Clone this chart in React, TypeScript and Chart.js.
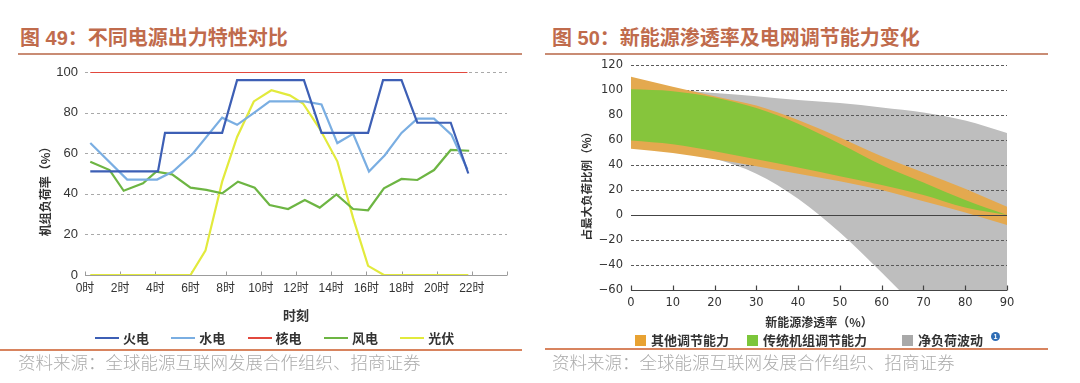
import React, { useEffect, useRef } from 'react';
import { Chart, registerables } from 'chart.js';

Chart.register(...registerables);

// ---------------- Figure 49 data (hours on a 0–24 axis, load rate %) ----------------
const SERIES_49 = ['火电', '水电', '核电', '风电', '光伏'];
const COLORS_49 = ['#3d5fb5', '#7aaee2', '#e2483d', '#6db543', '#e2ea3c'];

const THERMAL_X = [0.3, 4.15, 4.55, 7.8, 8.65, 12.45, 13.45, 16.1, 16.95, 18.0, 18.9, 20.8, 21.8];
const THERMAL_Y = [51, 51, 70, 70, 96, 96, 70, 70, 96, 96, 75, 75, 50];

const HYDRO_X = [0.3, 2.4, 4.1, 5.0, 6.15, 7.8, 8.65, 9.55, 10.5, 12.5, 13.45, 14.35, 15.25, 16.15, 17.05, 18.0, 18.9, 19.85, 20.85, 21.75];
const HYDRO_Y = [65, 47, 47, 51, 60, 77.5, 74, 79.5, 85.5, 85.5, 84, 65, 69.5, 51, 59, 70, 77, 77, 69, 52];

const NUCLEAR_X = [0.3, 21.75];
const NUCLEAR_Y = [100, 100];

const WIND_X = [0.3, 1.4, 2.2, 3.3, 4.05, 4.95, 6.0, 6.9, 7.8, 8.7, 9.65, 10.5, 11.55, 12.5, 13.35, 14.3, 15.25, 16.1, 17.0, 18.0, 18.9, 19.85, 20.8, 21.85];
const WIND_Y = [55.8, 51.7, 41.5, 45.2, 50.9, 49.6, 43, 41.9, 40.2, 46, 43, 34.5, 32.5, 36.9, 33.2, 39.7, 32.5, 31.9, 42.7, 47.3, 46.8, 51.7, 61.6, 61.2];

const SOLAR_X = [0.3, 6.0, 6.85, 7.8, 8.65, 9.6, 10.6, 11.65, 12.4, 13.35, 14.35, 15.25, 16.1, 17.0, 21.8];
const SOLAR_Y = [0, 0, 12, 46, 68, 85.5, 91, 88.5, 84.5, 72, 56, 28, 4.5, 0, 0];

const HOUR_MIN = 0;
const HOUR_MAX = 24;
const HOUR_STEP = 2;
const LOAD_TICKS = [0, 20, 40, 60, 80, 100];

// ---------------- Figure 50 data (penetration %, share of max load %) ----------------
const SERIES_50 = ['其他调节能力', '传统机组调节能力', '净负荷波动'];
const PEN_X = [0, 10, 20, 30, 40, 50, 60, 70, 80, 90];
const ORANGE_TOP = [110.5, 102.5, 95, 87.5, 76, 62, 47, 34, 21, 6.5];
const GREEN_TOP = [100.5, 99, 94, 85.5, 73, 57, 40, 26, 12, 0];
const GREEN_BOT = [59.5, 56.5, 51, 44.5, 38, 31, 24, 16, 6, 0];
const ORANGE_BOT = [53, 49.5, 44.5, 39, 33, 27, 20, 11, 2, -8];
const GREY_TOP = [100, 100, 97.5, 95, 92, 89.5, 86, 82, 75.5, 65.5];
const GREY_BOT = [56, 51, 45, 33, 13, -14, -46, -80, -115, -150];
const SHARE_TICKS = [-60, -40, -20, 0, 20, 40, 60, 80, 100, 120];

const LATIN = '"Liberation Sans", Arial, "Noto Sans CJK SC", sans-serif';
const DEJAVU = '"DejaVu Sans", "Noto Sans CJK SC", sans-serif';
const CJK = '"Noto Sans CJK SC", "Liberation Sans", sans-serif';

const pts = (xs: number[], ys: number[]) => xs.map((x, i) => ({ x, y: ys[i] }));

function Figure49() {
  const ref = useRef<HTMLCanvasElement>(null);
  useEffect(() => {
    const gridPlugin = {
      id: 'grid49',
      beforeDatasetsDraw(chart: any) {
        const { ctx, chartArea, scales } = chart;
        const { left, right, bottom } = chartArea;
        ctx.save();
        ctx.lineWidth = 1;
        ctx.strokeStyle = '#a9a9a9';
        ctx.setLineDash([3, 3]);
        LOAD_TICKS.forEach((v) => {
          if (v === 0) return;
          const py = Math.round(scales.y.getPixelForValue(v)) + 0.5;
          ctx.beginPath();
          ctx.moveTo(left, py);
          ctx.lineTo(right, py);
          ctx.stroke();
        });
        ctx.setLineDash([]);
        ctx.strokeStyle = '#9c9c9c';
        const by = Math.round(bottom) + 0.5;
        ctx.beginPath();
        ctx.moveTo(left, by);
        ctx.lineTo(right, by);
        ctx.stroke();
        scales.x.ticks.forEach((t: any) => {
          const px = Math.round(scales.x.getPixelForValue(t.value)) + 0.5;
          ctx.beginPath();
          ctx.moveTo(px, by);
          ctx.lineTo(px, by - 4);
          ctx.stroke();
        });
        ctx.restore();
      },
    };
    const xs = [THERMAL_X, HYDRO_X, NUCLEAR_X, WIND_X, SOLAR_X];
    const ys = [THERMAL_Y, HYDRO_Y, NUCLEAR_Y, WIND_Y, SOLAR_Y];
    const chart = new Chart(ref.current!, {
      type: 'line',
      data: {
        datasets: SERIES_49.map((name, i) => ({
          label: name,
          data: pts(xs[i], ys[i]),
          borderColor: COLORS_49[i],
          backgroundColor: COLORS_49[i],
          borderWidth: 2.2,
          pointRadius: 0,
          tension: 0,
          fill: false,
        })),
      },
      options: {
        responsive: false,
        animation: false,
        devicePixelRatio: 1,
        layout: { padding: { left: 38, top: 17, right: 33, bottom: 0 } },
        plugins: { legend: { display: false }, tooltip: { enabled: false } },
        scales: {
          x: {
            type: 'linear',
            min: HOUR_MIN,
            max: HOUR_MAX,
            ticks: {
              stepSize: HOUR_STEP,
              autoSkip: false,
              maxRotation: 0,
              padding: 6,
              color: '#333',
              font: { size: 12, family: LATIN },
              callback: (v: any) => (v === HOUR_MAX ? '' : `${v}时`),
            },
            grid: { display: false, drawTicks: false },
            border: { display: false },
            title: { display: true, text: '时刻', color: '#333', padding: 0, font: { size: 13, weight: 'bold', family: CJK } },
            afterFit: (s: any) => { s.height = 48; },
          },
          y: {
            min: 0,
            max: 100,
            ticks: { stepSize: 20, padding: 7, color: '#333', font: { size: 13, family: LATIN } },
            grid: { display: false, drawTicks: false },
            border: { display: false },
            title: { display: true, text: '机组负荷率（%）\u3000\u3000\u3000', color: '#333', padding: 0, font: { size: 12, weight: 'bold', family: CJK } },
            afterFit: (s: any) => { s.width = 47; },
          },
        },
      } as any,
      plugins: [gridPlugin],
    });
    return () => chart.destroy();
  }, []);
  return (
    <canvas ref={ref} width={540} height={268}
      style={{ position: 'absolute', left: 0, top: 55, width: 540, height: 268 }} />
  );
}

function Figure50() {
  const ref = useRef<HTMLCanvasElement>(null);
  useEffect(() => {
    const drawDashed = (chart: any) => {
      const { ctx, chartArea, scales } = chart;
      ctx.save();
      ctx.lineWidth = 1;
      ctx.strokeStyle = '#5a5a5a';
      ctx.setLineDash([3, 2]);
      SHARE_TICKS.forEach((v) => {
        if (v === 0 || v === -60) return;
        const py = Math.round(scales.y.getPixelForValue(v)) + 0.5;
        ctx.beginPath();
        ctx.moveTo(chartArea.left, py);
        ctx.lineTo(chartArea.right, py);
        ctx.stroke();
      });
      ctx.restore();
    };
    const axesPlugin = {
      id: 'axes50',
      afterDatasetDraw(chart: any, args: any) {
        if (args.index === 4) drawDashed(chart);
      },
      afterDatasetsDraw(chart: any) {
        const { ctx, chartArea, scales } = chart;
        ctx.save();
        ctx.strokeStyle = '#444';
        ctx.lineWidth = 1.2;
        const zy = Math.round(scales.y.getPixelForValue(0)) + 0.5;
        ctx.beginPath();
        ctx.moveTo(chartArea.left, zy);
        ctx.lineTo(chartArea.right, zy);
        ctx.stroke();
        const by = Math.round(chartArea.bottom) + 0.5;
        ctx.beginPath();
        ctx.moveTo(chartArea.left, by);
        ctx.lineTo(chartArea.right, by);
        ctx.stroke();
        scales.x.ticks.forEach((t: any) => {
          const px = Math.round(scales.x.getPixelForValue(t.value)) + 0.5;
          ctx.beginPath();
          ctx.moveTo(px, by);
          ctx.lineTo(px, by - 5);
          ctx.stroke();
        });
        ctx.restore();
      },
    };
    const band = (data: number[], color: string, fill: any, order: number) => ({
      data: pts(PEN_X, data),
      fill,
      backgroundColor: color,
      borderColor: 'transparent',
      borderWidth: 0,
      pointRadius: 0,
      cubicInterpolationMode: 'monotone',
      order,
    });
    const chart = new Chart(ref.current!, {
      type: 'line',
      data: {
        datasets: [
          { label: SERIES_50[1], ...band(GREEN_TOP, '#86c53c', '+1', 1) },
          { label: SERIES_50[1] + '下', ...band(GREEN_BOT, '#86c53c', false, 2) },
          { label: SERIES_50[0], ...band(ORANGE_TOP, '#e4a94f', '+1', 3) },
          { label: SERIES_50[0] + '下', ...band(ORANGE_BOT, '#e4a94f', false, 4) },
          { label: SERIES_50[2], ...band(GREY_TOP, '#bebebe', '+1', 5) },
          { label: SERIES_50[2] + '下', ...band(GREY_BOT, '#bebebe', false, 6) },
        ],
      },
      options: {
        responsive: false,
        animation: false,
        devicePixelRatio: 1,
        layout: { padding: { left: 35, top: 14, right: 73, bottom: 0 } },
        plugins: { legend: { display: false }, tooltip: { enabled: false } },
        scales: {
          x: {
            type: 'linear',
            min: 0,
            max: 90,
            ticks: { stepSize: 10, autoSkip: false, maxRotation: 0, padding: 6, color: '#333', font: { size: 11.5, family: DEJAVU } },
            grid: { display: false, drawTicks: false },
            border: { display: false },
            title: { display: true, text: '新能源渗透率（%）', color: '#333', padding: 0, font: { size: 12, weight: 'bold', family: CJK } },
            afterFit: (s: any) => { s.height = 40; },
          },
          y: {
            min: -60,
            max: 120,
            ticks: {
              stepSize: 20,
              padding: 8,
              color: '#333',
              font: { size: 11.5, family: DEJAVU },
              callback: (v: any) => (v < 0 ? `\u2212${Math.abs(v)}` : `${v}`),
            },
            grid: { display: false, drawTicks: false },
            border: { display: false },
            title: { display: true, text: '占最大负荷比例（%）\u3000\u2002', color: '#333', padding: 0, font: { size: 11.5, weight: 'bold', family: CJK } },
            afterFit: (s: any) => { s.width = 51; },
          },
        },
      } as any,
      plugins: [axesPlugin],
    });
    return () => chart.destroy();
  }, []);
  return (
    <canvas ref={ref} width={535} height={280}
      style={{ position: 'absolute', left: 545, top: 50, width: 535, height: 280 }} />
  );
}

const headerStyle: React.CSSProperties = {
  position: 'absolute',
  top: 26,
  fontFamily: LATIN,
  fontWeight: 'bold',
  fontSize: 20,
  lineHeight: '24px',
  color: '#c06b4c',
  whiteSpace: 'nowrap',
};
const sourceStyle: React.CSSProperties = {
  position: 'absolute',
  top: 352,
  fontFamily: CJK,
  fontWeight: 300,
  fontSize: 17.5,
  lineHeight: '20px',
  color: '#ababab',
  whiteSpace: 'nowrap',
};
const legendText: React.CSSProperties = {
  position: 'absolute',
  fontFamily: CJK,
  fontWeight: 'bold',
  fontSize: 13,
  lineHeight: '18px',
  color: '#333',
  whiteSpace: 'nowrap',
};

export default function App() {
  const legend50Colors = ['#e8a232', '#7cc63a', '#a9a9a9'];
  const legend50Left = [635, 747, 902];
  return (
    <div style={{ position: 'absolute', left: 0, top: 0, width: 1080, height: 383, background: '#fff', overflow: 'hidden' }}>
      <div style={{ ...headerStyle, left: 20 }}>图 49：不同电源出力特性对比</div>
      <div style={{ ...headerStyle, left: 552 }}>图 50：新能源渗透率及电网调节能力变化</div>
      <div style={{ position: 'absolute', left: 18, top: 53, width: 504, height: 2, background: '#c98c74' }} />
      <div style={{ position: 'absolute', left: 545, top: 53, width: 503, height: 2, background: '#c98c74' }} />

      <Figure49 />
      <Figure50 />

      {SERIES_49.map((name, i) => (
        <React.Fragment key={name}>
          <div style={{ position: 'absolute', left: 95 + i * 76.3, top: 337, width: 24, height: 2, background: COLORS_49[i] }} />
          <div style={{ ...legendText, left: 123 + i * 76.3, top: 329 }}>{name}</div>
        </React.Fragment>
      ))}

      {SERIES_50.map((name, i) => (
        <React.Fragment key={name}>
          <div style={{ position: 'absolute', left: legend50Left[i], top: 335, width: 11, height: 11, background: legend50Colors[i] }} />
          <div style={{ ...legendText, left: legend50Left[i] + 16, top: 331 }}>{name}</div>
        </React.Fragment>
      ))}
      <div style={{ position: 'absolute', left: 991, top: 332, width: 9, height: 9, borderRadius: '50%', background: '#2f6db5', color: '#fff', fontSize: 7, lineHeight: '9px', textAlign: 'center', fontFamily: LATIN, fontWeight: 'bold' }}>1</div>

      <div style={{ position: 'absolute', left: 0, top: 349, width: 522, height: 1.5, background: '#d8845f' }} />
      <div style={{ position: 'absolute', left: 545, top: 348, width: 503, height: 1.5, background: '#d8845f' }} />
      <div style={{ ...sourceStyle, left: 18 }}>资料来源：全球能源互联网发展合作组织、招商证券</div>
      <div style={{ ...sourceStyle, left: 552 }}>资料来源：全球能源互联网发展合作组织、招商证券</div>
    </div>
  );
}
